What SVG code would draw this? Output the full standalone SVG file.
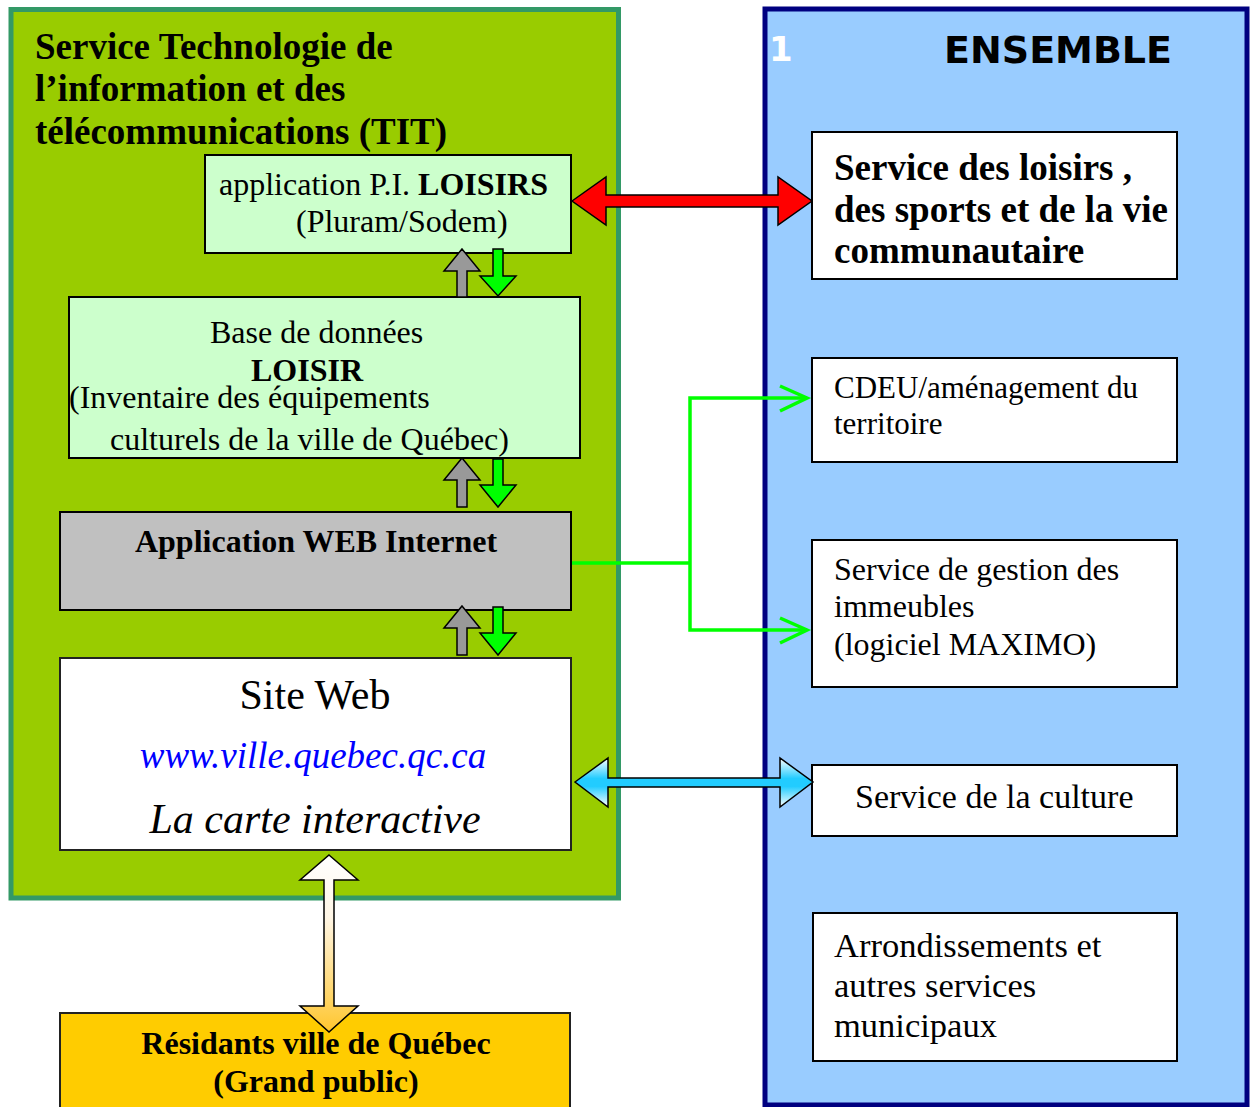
<svg xmlns="http://www.w3.org/2000/svg" width="1250" height="1107" viewBox="0 0 1250 1107">
<defs>
<style>
text{font-family:"Liberation Serif","Times New Roman",serif;fill:#000}
.b{font-weight:bold}
.box{stroke:#000;stroke-width:2}
.up{fill:#999999;stroke:#000;stroke-width:1.5}
.dn{fill:#00ff00;stroke:#000;stroke-width:1.5}
.gl{fill:none;stroke:#00ff00;stroke-width:3.5}
</style>
<linearGradient id="cy" gradientUnits="userSpaceOnUse" x1="0" y1="758" x2="0" y2="807">
<stop offset="0" stop-color="#ffffff"/><stop offset="0.42" stop-color="#22ccff"/><stop offset="0.58" stop-color="#22ccff"/><stop offset="1" stop-color="#ffffff"/>
</linearGradient>
<linearGradient id="or" gradientUnits="userSpaceOnUse" x1="0" y1="855" x2="0" y2="1032">
<stop offset="0" stop-color="#ffffff"/><stop offset="0.35" stop-color="#fff6e6"/><stop offset="1" stop-color="#ffc62e"/>
</linearGradient>
</defs>
<rect width="1250" height="1107" fill="#ffffff"/>
<g id="tit">
<rect x="11" y="9.5" width="607.5" height="888.5" fill="#99cc00" stroke="#339966" stroke-width="5"/>
<text class="b" font-size="37" x="35" y="59">Service Technologie de</text>
<text class="b" font-size="37" x="35" y="101">l’information et des</text>
<text class="b" font-size="37" x="35" y="144">télécommunications (TIT)</text>
</g>
<g id="ensemble">
<rect x="765" y="9" width="482" height="1096" fill="#99ccff" stroke="#000080" stroke-width="5"/>
<text x="769" y="61" font-size="34" font-weight="bold" style="font-family:'DejaVu Sans',sans-serif;fill:#ffffff">1</text>
<text x="944" y="63" font-size="38" font-weight="bold" style="font-family:'DejaVu Sans',sans-serif">ENSEMBLE</text>
</g>
<g id="app-pi">
<rect class="box" x="205" y="155" width="366" height="98" fill="#ccffcc"/>
<text font-size="32" x="219" y="195">application P.I. <tspan class="b">LOISIRS</tspan></text>
<text font-size="32" x="296" y="232">(Pluram/Sodem)</text>
</g>
<g id="base-loisir">
<rect class="box" x="69" y="297" width="511" height="161" fill="#ccffcc"/>
<text font-size="32" x="210" y="343">Base de données</text>
<text class="b" font-size="32" x="251" y="381">LOISIR</text>
<text font-size="32" x="69" y="408">(Inventaire des équipements</text>
<text font-size="32" x="110" y="450">culturels de la ville de Québec)</text>
</g>
<g id="app-web">
<rect class="box" x="60" y="512" width="511" height="98" fill="#c0c0c0"/>
<text class="b" font-size="32" x="316" y="552" text-anchor="middle">Application WEB Internet</text>
</g>
<g id="site-web">
<rect x="60" y="658" width="511" height="192" fill="#ffffff" stroke="#222" stroke-width="2"/>
<text font-size="42" x="315" y="709" text-anchor="middle">Site Web</text>
<text font-size="37" x="313" y="768" text-anchor="middle" font-style="italic" style="fill:#0000ff">www.ville.quebec.qc.ca</text>
<text font-size="42" x="315" y="833" text-anchor="middle" font-style="italic">La carte interactive</text>
</g>
<g id="residants">
<rect x="60" y="1013" width="510" height="100" fill="#ffcc00" stroke="#222" stroke-width="2"/>
<text class="b" font-size="32" x="316" y="1054" text-anchor="middle">Résidants ville de Québec</text>
<text class="b" font-size="32" x="316" y="1092" text-anchor="middle">(Grand public)</text>
</g>
<g id="loisirs-sports">
<rect class="box" x="812" y="132" width="365" height="147" fill="#ffffff"/>
<text class="b" font-size="37" x="834" y="180">Service des loisirs ,</text>
<text class="b" font-size="37" x="834" y="222">des sports et de la vie</text>
<text class="b" font-size="37" x="834" y="263">communautaire</text>
</g>
<g id="cdeu">
<rect class="box" x="812" y="358" width="365" height="104" fill="#ffffff"/>
<text font-size="31" x="834" y="398">CDEU/aménagement du</text>
<text font-size="31" x="834" y="434">territoire</text>
</g>
<g id="gestion-immeubles">
<rect class="box" x="812" y="540" width="365" height="147" fill="#ffffff"/>
<text font-size="32" x="834" y="580">Service de gestion des</text>
<text font-size="32" x="834" y="617">immeubles</text>
<text font-size="32" x="834" y="655">(logiciel MAXIMO)</text>
</g>
<g id="culture">
<rect class="box" x="812" y="765" width="365" height="71" fill="#ffffff"/>
<text font-size="34" x="855" y="808">Service de la culture</text>
</g>
<g id="arrondissements">
<rect class="box" x="813" y="913" width="364" height="148" fill="#ffffff"/>
<text font-size="34.5" x="834" y="957">Arrondissements et</text>
<text font-size="34.5" x="834" y="997">autres services</text>
<text font-size="34.5" x="834" y="1037">municipaux</text>
</g>
<g id="connectors">
<polygon points="572,201 606,177 606,195 778,195 778,177 812,201 778,225 778,207 606,207 606,225" fill="#ff0000" stroke="#000" stroke-width="1.5"/>
<polygon points="575,782 608,758 608,778 780,778 780,758 813,782 780,807 780,787 608,787 608,807" fill="url(#cy)" stroke="#000" stroke-width="1.5"/>
<polygon points="329,855 358,880 334,880 334,1006 358,1006 329,1032 300,1006 324,1006 324,880 300,880" fill="url(#or)" stroke="#000" stroke-width="1.5"/>
<polygon class="up" points="462,249 480,271 467,271 467,297 457,297 457,271 444,271"/>
<polygon class="dn" points="493,249 503,249 503,276 516,276 498,296 480,276 493,276"/>
<polygon class="up" points="462,458 480,480 467,480 467,507 457,507 457,480 444,480"/>
<polygon class="dn" points="493,459 503,459 503,485 516,485 498,507 480,485 493,485"/>
<polygon class="up" points="462,606 480,628 467,628 467,655 457,655 457,628 444,628"/>
<polygon class="dn" points="493,607 503,607 503,633 516,633 498,655 480,633 493,633"/>
<polyline class="gl" points="572,563 690,563"/>
<polyline class="gl" points="807,398 690,398 690,630 807,630"/>
<polyline class="gl" points="780,386 807,398 780,411"/>
<polyline class="gl" points="780,618 807,630 780,643"/>
</g>
</svg>
